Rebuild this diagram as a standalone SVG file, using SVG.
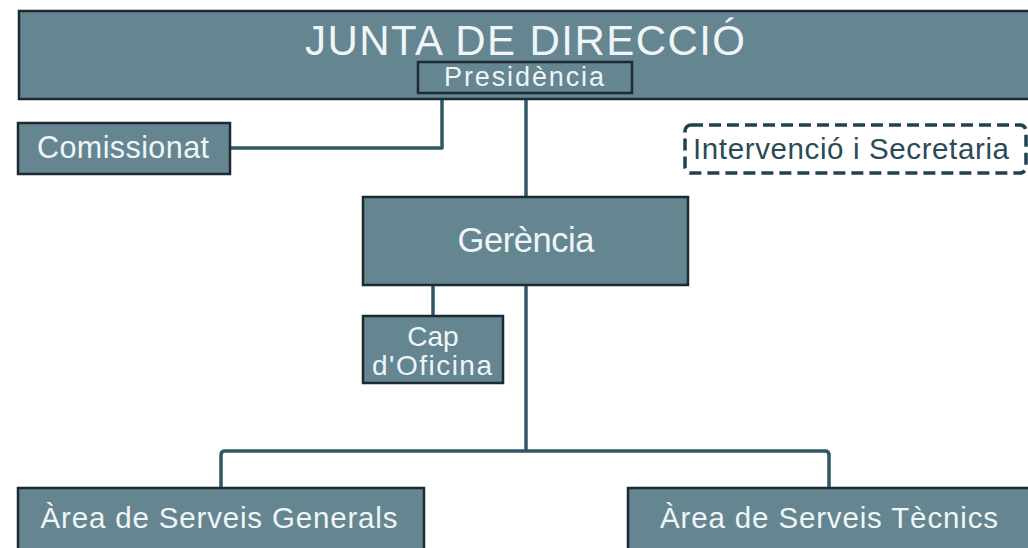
<svg xmlns="http://www.w3.org/2000/svg" width="1028" height="548" viewBox="0 0 1028 548">
<style>
.box{fill:#658591;stroke:#1c2b31;stroke-width:2.5}
.t{font-family:"Liberation Sans",Arial,sans-serif;fill:#eef6f8;text-anchor:middle}
.ln{fill:none;stroke:#2f5866;stroke-width:3.5;stroke-linejoin:round}
</style>
<rect width="1028" height="548" fill="#ffffff"/>
<g id="connectors">
<path class="ln" d="M230,148 H442 V93"/>
<path class="ln" d="M526,93 V197"/>
<path class="ln" d="M526,285 V450"/>
<path class="ln" d="M433,285 V316"/>
<path class="ln" d="M221,488 V455 Q221,451 225,451 H825 Q829,451 829,455 V488"/>
</g>
<g id="junta">
<rect class="box" x="19" y="11" width="1015" height="88"/>
<text class="t" x="525" y="55" font-size="42" textLength="440" lengthAdjust="spacing">JUNTA DE DIRECCIÓ</text>
</g>
<g id="presidencia">
<rect class="box" x="418" y="62" width="214" height="31"/>
<text class="t" x="524" y="86" font-size="27" textLength="160" lengthAdjust="spacing">Presidència</text>
</g>
<g id="comissionat">
<rect class="box" x="18" y="123" width="212" height="51"/>
<text class="t" x="123" y="158" font-size="30.5" textLength="172" lengthAdjust="spacing">Comissionat</text>
</g>
<g id="intervencio">
<rect x="685" y="125" width="341" height="48" rx="6" fill="none" stroke="#1e4350" stroke-width="3.5" stroke-dasharray="12,6"/>
<text x="851" y="159" font-size="29.5" font-family="'Liberation Sans',Arial,sans-serif" fill="#2a4a55" text-anchor="middle" textLength="316" lengthAdjust="spacing">Intervenció i Secretaria</text>
</g>
<g id="gerencia">
<rect class="box" x="363" y="197" width="325" height="88"/>
<text class="t" x="526" y="252" font-size="34.5" textLength="137" lengthAdjust="spacing">Gerència</text>
</g>
<g id="cap">
<rect class="box" x="363" y="316" width="140" height="67"/>
<text class="t" x="433" y="346" font-size="28">Cap</text>
<text class="t" x="432" y="375" font-size="28" textLength="120" lengthAdjust="spacing">d'Oficina</text>
</g>
<g id="generals">
<rect class="box" x="18" y="488" width="406" height="66"/>
<text class="t" x="219" y="528" font-size="29.5" textLength="357" lengthAdjust="spacing">Àrea de Serveis Generals</text>
</g>
<g id="tecnics">
<rect class="box" x="628" y="488" width="406" height="66"/>
<text class="t" x="829" y="528" font-size="29.5" textLength="338" lengthAdjust="spacing">Àrea de Serveis Tècnics</text>
</g>
</svg>
